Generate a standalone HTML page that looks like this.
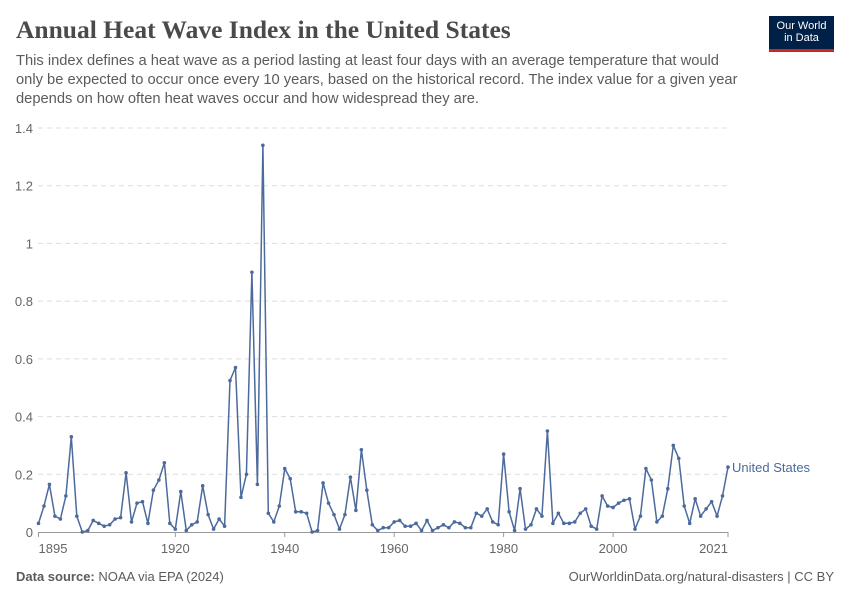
<!DOCTYPE html>
<html><head><meta charset="utf-8"><style>
body{margin:0;background:#fff;font-family:"Liberation Sans",sans-serif;}
.wrap{position:relative;width:850px;height:600px;overflow:hidden}
h1{position:absolute;left:16px;top:15px;margin:0;font-family:"Liberation Serif",serif;font-weight:bold;font-size:25.5px;color:#4a4a4a}
.sub{position:absolute;left:16px;top:52px;width:726px;font-size:14.7px;line-height:19px;color:#5b5b5b}
.logo{position:absolute;left:769px;top:16px;width:65px;height:36px;background:#002147;color:#fff;font-size:11px;line-height:12px;text-align:center;padding-top:4px;box-sizing:border-box;border-bottom:3px solid #ce261e}
.foot{position:absolute;top:569px;font-size:13px;color:#5b5b5b}
</style></head><body><div class="wrap">
<h1>Annual Heat Wave Index in the United States</h1>
<div class="sub">This index defines a heat wave as a period lasting at least four days with an average temperature that would only be expected to occur once every 10 years, based on the historical record. The index value for a given year depends on how often heat waves occur and how widespread they are.</div>
<div class="logo">Our World<br>in Data</div>
<svg id="c" width="850" height="600" style="position:absolute;left:0;top:0" font-family="Liberation Sans, sans-serif"></svg>
<div class="foot" style="left:16px"><b>Data source:</b> NOAA via EPA (2024)</div>
<div class="foot" style="right:16px">OurWorldinData.org/natural-disasters | CC BY</div>
</div>
<script>
var v=[0.03,0.09,0.165,0.055,0.045,0.125,0.33,0.055,0.0,0.005,0.04,0.03,0.02,0.025,0.045,0.05,0.205,0.035,0.1,0.105,0.03,0.145,0.18,0.24,0.03,0.01,0.14,0.005,0.025,0.035,0.16,0.06,0.01,0.045,0.02,0.525,0.57,0.12,0.2,0.9,0.165,1.34,0.065,0.035,0.09,0.22,0.185,0.07,0.07,0.065,0.0,0.005,0.17,0.1,0.06,0.01,0.06,0.19,0.075,0.285,0.145,0.025,0.005,0.015,0.015,0.035,0.04,0.02,0.02,0.03,0.005,0.04,0.005,0.015,0.025,0.015,0.035,0.03,0.015,0.015,0.065,0.055,0.08,0.035,0.025,0.27,0.07,0.005,0.15,0.01,0.025,0.08,0.055,0.35,0.03,0.065,0.03,0.03,0.035,0.065,0.08,0.02,0.01,0.125,0.09,0.085,0.1,0.11,0.115,0.01,0.055,0.22,0.18,0.035,0.055,0.15,0.3,0.255,0.09,0.03,0.115,0.055,0.08,0.105,0.055,0.125,0.225];
var X=function(y){return 38.5+(y-1895)*(689.5/126)};
var Y=function(d){return 532-d*(404/1.4)};
var s='';
for(var i=0;i<=7;i++){var d=i*0.2,y=Y(d);
 if(i>0)s+='<line x1="38" x2="728" y1="'+y+'" y2="'+y+'" stroke="#ddd" stroke-dasharray="5,4"/>';
 var t=i==0?'0':(i%5==0?String(d):d.toFixed(1).replace(/\.0$/,''));
 s+='<text x="33" y="'+(y+5)+'" text-anchor="end" font-size="13" fill="#666">'+t+'</text>';}
s+='<line x1="38" x2="728" y1="532.5" y2="532.5" stroke="#999"/>';
[[1895,'start'],[1920,'middle'],[1940,'middle'],[1960,'middle'],[1980,'middle'],[2000,'middle'],[2021,'end']].forEach(function(a){var x=X(a[0]);
 s+='<line x1="'+x+'" x2="'+x+'" y1="532" y2="537" stroke="#999"/>';
 s+='<text x="'+x+'" y="553" text-anchor="'+a[1]+'" font-size="13" fill="#666">'+a[0]+'</text>';});
var p=v.map(function(d,i){return X(1895+i).toFixed(1)+','+Y(d).toFixed(1)}).join(' ');
s+='<polyline points="'+p+'" fill="none" stroke="#4c6a9c" stroke-width="1.5" stroke-linejoin="round"/>';
v.forEach(function(d,i){s+='<circle cx="'+X(1895+i)+'" cy="'+Y(d)+'" r="1.8" fill="#4c6a9c"/>';});
s+='<text x="732" y="'+(Y(0.225)+5)+'" font-size="13" fill="#4c6a9c">United States</text>';
document.getElementById('c').innerHTML=s;
</script>
</body></html>
